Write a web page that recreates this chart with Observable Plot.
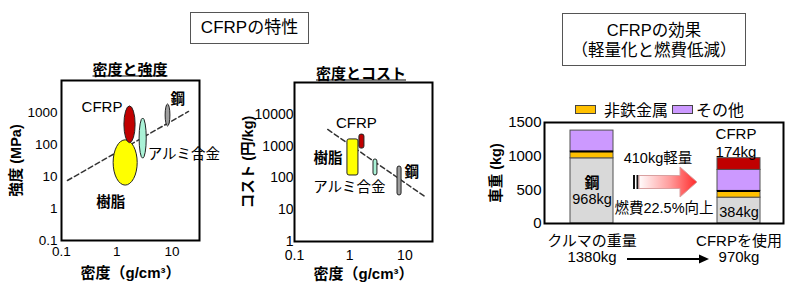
<!DOCTYPE html>
<html>
<head>
<meta charset="utf-8">
<script src="https://cdn.jsdelivr.net/npm/d3@7"></script>
<script src="https://cdn.jsdelivr.net/npm/@observablehq/plot@0.6"></script>
<style>
  html, body { margin: 0; padding: 0; background: #fff; }
  #root { position: relative; width: 800px; height: 292px; overflow: hidden;
          font-family: "Liberation Sans", "Noto Sans CJK JP", sans-serif; color: #000; }
  .box { position: absolute; border: 1px solid #555; box-sizing: border-box; background: #fff;
         display: flex; flex-direction: column; align-items: center; justify-content: center;
         font-size: 17px; line-height: 20px; white-space: nowrap; }
  .title { position: absolute; font-size: 15px; font-weight: bold; text-decoration: underline;
           transform: translate(-50%, -50%); white-space: nowrap; }
  .panel { position: absolute; top: 0; }
  .legend { position: absolute; display: flex; align-items: center; font-size: 16px; white-space: nowrap; }
  .swatch { display: inline-block; width: 21px; height: 9px; border: 1px solid #444; box-sizing: border-box; margin-right: 8px; }
  #overlay { position: absolute; left: 0; top: 0; pointer-events: none; }
</style>
</head>
<body>
<div id="root"></div>
<script>
// ---- 材料の特性 ----
const materials = ["CFRP", "樹脂", "アルミ合金", "鋼"];

// 密度と強度 (g/cm³, MPa)
const densityLo  = [1.38, 0.88, 2.6, 7.7];
const densityHi  = [2.2, 2.4, 3.5, 9.4];
const strengthLo = [110, 5.2, 36, 365];
const strengthHi = [1550, 135, 650, 1780];
const strengthTrendDensity = [0.128, 20];
const strengthTrend = [7.5, 1080];

// 密度とコスト (g/cm³, 円/kg)
const costDensityLo = [1.5, 0.91, 2.7, 7.35];
const costDensityHi = [1.85, 1.44, 3.18, 8.7];
const costLo = [835, 119, 119, 28];
const costHi = [2300, 1620, 380, 228];
const costTrendDensity = [0.4, 24.6];
const costTrend = [3330, 24];

const densityTicks = [0.1, 1, 10];
const strengthTicks = [0.1, 1, 10, 100, 1000];
const costTicks = [1, 10, 100, 1000, 10000];

// ---- CFRPの効果 ----
const cars = ["クルマの重量", "CFRPを使用"];
const parts = ["鋼", "非鉄金属", "その他", "CFRP"];
const steelKg = [968, 384];
const nonFerrousKg = [100, 100];
const otherKg = [312, 312];
const cfrpKg = [0, 174];
const totalKg = [1380, 970];
const fuelGainPct = 22.5;
const weightTicks = [0, 500, 1000, 1500];

// ---- 描画 ----
const FONT = '"Liberation Sans", "Noto Sans CJK JP", sans-serif';
const fmt = d => String(d);
const materialColor = {"CFRP": "#c00000", "樹脂": "#ffff00", "アルミ合金": "#aaf2d6", "鋼": "#9e9e9e"};
const partColor = {"鋼": "#d9d9d9", "非鉄金属": "#ffc000", "その他": "#cc99ff", "CFRP": "#c00000"};
const drawOrder = ["樹脂", "CFRP", "アルミ合金", "鋼"];

const root = document.getElementById("root");

function addHTML(html) {
  const t = document.createElement("template");
  t.innerHTML = html.trim();
  const el = t.content.firstChild;
  root.appendChild(el);
  return el;
}

function place(svg, left) {
  const wrap = document.createElement("div");
  wrap.className = "panel";
  wrap.style.left = left + "px";
  wrap.appendChild(svg);
  root.appendChild(wrap);
}

function labelMark(name, rows, opts) {
  return Plot.text(rows.filter(d => d.name === name), {
    text: "name", fontSize: name === "CFRP" ? 15 : 14.5,
    fontWeight: (name === "樹脂" || name === "鋼") ? "bold" : "normal",
    fill: "#000", ...opts
  });
}

// rotated label along the left edge of the frame
function yLabel(text, dx) {
  return Plot.text([text], {frameAnchor: "left", textAnchor: "middle", lineAnchor: "middle",
    rotate: -90, dx, fontSize: 14.5, fontWeight: "bold"});
}
// label centred under the frame
function xLabel(text, dy) {
  return Plot.text([text], {frameAnchor: "bottom", textAnchor: "middle", lineAnchor: "middle",
    dy, fontSize: 15, fontWeight: "bold"});
}

// 密度と強度
const strengthRows = materials.map((name, i) => ({
  name, x1: densityLo[i], x2: densityHi[i], y1: strengthLo[i], y2: strengthHi[i]
})).sort((a, b) => drawOrder.indexOf(a.name) - drawOrder.indexOf(b.name));
const strengthTrendRows = strengthTrendDensity.map((x, i) => ({x, y: strengthTrend[i]}));

const plot1 = Plot.plot({
  width: 270, height: 292,
  marginLeft: 61, marginRight: 71, marginTop: 80, marginBottom: 52,
  style: {fontFamily: FONT, fontSize: "13.5px", color: "#000", background: "transparent", overflow: "visible"},
  x: {type: "log", domain: [0.1, 10 ** 1.5]},
  y: {type: "log", domain: [0.1, 10000]},
  marks: [
    Plot.line(strengthTrendRows, {x: "x", y: "y", stroke: "#333", strokeWidth: 1.5, strokeDasharray: "5,3"}),
    Plot.rect(strengthRows, {x1: "x1", x2: "x2", y1: "y1", y2: "y2",
      fill: d => materialColor[d.name], stroke: "#222", strokeWidth: 1, rx: 200, ry: 200}),
    labelMark("CFRP", strengthRows, {x: "x1", y: "y2", textAnchor: "end", dx: -2, dy: 1}),
    labelMark("樹脂", strengthRows, {x: "x1", y: "y1", textAnchor: "middle", dx: -3, dy: 17}),
    labelMark("アルミ合金", strengthRows, {x: "x2", y: "y1", textAnchor: "start", dx: 1, dy: -4}),
    labelMark("鋼", strengthRows, {x: "x2", y: "y2", textAnchor: "start", dx: 0, dy: -5}),
    Plot.axisX({ticks: densityTicks, tickFormat: fmt, tickSize: 0, tickPadding: 6, label: null}),
    Plot.axisY({ticks: strengthTicks, tickFormat: fmt, tickSize: 0, tickPadding: 4, label: null}),
    yLabel("強度 (MPa)", -45),
    xLabel("密度（g/cm³）", 33),
    Plot.frame({stroke: "#000", strokeWidth: 2})
  ]
});
place(plot1, 0);

// 密度とコスト
const costRows = materials.map((name, i) => ({
  name, x1: costDensityLo[i], x2: costDensityHi[i], y1: costLo[i], y2: costHi[i]
}));
const costTrendRows = costTrendDensity.map((x, i) => ({x, y: costTrend[i]}));

const plot2 = Plot.plot({
  width: 240, height: 292,
  marginLeft: 64, marginRight: 38, marginTop: 82, marginBottom: 51,
  style: {fontFamily: FONT, fontSize: "14px", color: "#000", background: "transparent", overflow: "visible"},
  x: {type: "log", domain: [0.1, 10 ** 1.5]},
  y: {type: "log", domain: [1, 100000]},
  marks: [
    Plot.line(costTrendRows, {x: "x", y: "y", stroke: "#333", strokeWidth: 1.5, strokeDasharray: "5,3"}),
    Plot.rect(costRows, {x1: "x1", x2: "x2", y1: "y1", y2: "y2",
      fill: d => materialColor[d.name], stroke: "#222", strokeWidth: 1, rx: 2, ry: 2}),
    labelMark("CFRP", costRows, {x: "x1", y: "y2", textAnchor: "middle", dx: -3, dy: -11}),
    labelMark("樹脂", costRows, {x: "x1", y: "y2", textAnchor: "end", dx: -5, dy: 19}),
    labelMark("アルミ合金", costRows, {x: "x1", y: "y1", textAnchor: "end", dx: 12, dy: 12}),
    labelMark("鋼", costRows, {x: "x2", y: "y2", textAnchor: "start", dx: 3, dy: 6}),
    Plot.axisX({ticks: densityTicks, tickFormat: fmt, tickSize: 0, tickPadding: 9, label: null}),
    Plot.axisY({ticks: costTicks, tickFormat: fmt, tickSize: 0, tickPadding: 1, label: null}),
    yLabel("コスト (円/kg)", -46),
    xLabel("密度（g/cm³）", 33),
    Plot.frame({stroke: "#000", strokeWidth: 2})
  ]
});
place(plot2, 230);

// 車重の内訳
const partKg = [steelKg, nonFerrousKg, otherKg, cfrpKg];
const weightRows = cars.flatMap((car, i) => parts.map((part, j) => ({car, part, kg: partKg[j][i]})))
  .filter(d => d.kg > 0);
const boundaryRows = cars.map((car, i) => ({car, kg: steelKg[i] + nonFerrousKg[i]}));
const steelLabelRows = cars.map((car, i) => ({car, mid: steelKg[i] / 2, text: `${steelKg[i]}kg`}));
const cfrpLabelRows = cars.map((car, i) => ({car, top: totalKg[i], kg: cfrpKg[i]})).filter(d => d.kg > 0);

const plot3 = Plot.plot({
  width: 320, height: 292,
  marginLeft: 64, marginRight: 17, marginTop: 122, marginBottom: 69,
  style: {fontFamily: FONT, fontSize: "15px", color: "#000", background: "transparent", overflow: "visible"},
  x: {type: "band", domain: cars, range: [37.25, 332.25], paddingInner: 0.7085, paddingOuter: 0.3542, axis: null},
  y: {domain: [0, 1500]},
  marks: [
    Plot.barY(weightRows, {x: "car", y: "kg", fill: d => partColor[d.part], stroke: "#505050", strokeWidth: 1}),
    Plot.tickY(boundaryRows, {x: "car", y: "kg", stroke: "#000", strokeWidth: 2}),
    Plot.text(steelLabelRows.slice(0, 1), {x: "car", y: "mid", text: () => "鋼", dy: -8, fontSize: 15, fontWeight: "bold"}),
    Plot.text(steelLabelRows.slice(0, 1), {x: "car", y: "mid", text: "text", dy: 8, fontSize: 14.5}),
    Plot.text(steelLabelRows.slice(1), {x: "car", y: "mid", text: "text", dy: 2, fontSize: 14.5}),
    Plot.text(cfrpLabelRows, {x: "car", y: "top", text: d => `CFRP\n${d.kg}kg`, lineAnchor: "bottom",
      dy: -1, dx: -3, fontSize: 15, lineHeight: 1.2}),
    Plot.text(cars, {x: d => d, frameAnchor: "bottom", text: (d, i) => `${d}\n${totalKg[i]}kg`,
      lineAnchor: "top", dy: 11, fontSize: 15, lineHeight: 1.07}),
    Plot.axisY({ticks: weightTicks, tickFormat: fmt, tickSize: 0, tickPadding: 3, label: null}),
    yLabel("車重 (kg)", -48),
    Plot.frame({stroke: "#000", strokeWidth: 2})
  ]
});
place(plot3, 480);

// 見出し
addHTML(`<div class="box" style="left:190px;top:12px;width:119px;height:32px;">CFRPの特性</div>`);
addHTML(`<div class="box" style="left:562px;top:13px;width:184px;height:53px;font-size:16.5px;"><div>CFRPの効果</div><div>（軽量化と燃費低減）</div></div>`);
addHTML(`<div class="title" style="left:130px;top:68px;">密度と強度</div>`);
addHTML(`<div class="title" style="left:361px;top:72px;">密度とコスト</div>`);

// 凡例
addHTML(`<div class="legend" style="left:575px;top:97px;">
  <span class="swatch" style="background:${partColor["非鉄金属"]}"></span><span style="margin-right:4px">${parts[1]}</span>
  <span class="swatch" style="background:${partColor["その他"]};margin-right:3px"></span><span>${parts[2]}</span>
</div>`);

// 軽量化の矢印と注記
const savedKg = totalKg[0] - totalKg[1];
addHTML(`<svg id="overlay" width="800" height="292" font-family='${FONT}'>
  <defs>
    <linearGradient id="redFade" x1="638" x2="697" y1="0" y2="0" gradientUnits="userSpaceOnUse">
      <stop offset="0" stop-color="#ffffff"/>
      <stop offset="0.55" stop-color="#ff9a9a"/>
      <stop offset="1" stop-color="#ff2a2a"/>
    </linearGradient>
  </defs>
  <text x="658" y="158" font-size="14.5" text-anchor="middle" dominant-baseline="central">${savedKg}kg軽量</text>
  <rect x="633" y="175" width="2" height="14" fill="#111"/>
  <rect x="636.5" y="175" width="2" height="14" fill="#111"/>
  <path d="M639,175.5 H680 V167 L697,182 L680,197 V188.5 H639 Z" fill="url(#redFade)" stroke="#d9a0a0" stroke-width="1"/>
  <text x="664" y="208" font-size="14.5" text-anchor="middle" dominant-baseline="central">燃費${fuelGainPct}%向上</text>
  <line x1="627" y1="259" x2="700" y2="259" stroke="#000" stroke-width="2"/>
  <path d="M699,254.5 L709,259 L699,263.5 Z" fill="#000"/>
</svg>`);
</script>
</body>
</html>
